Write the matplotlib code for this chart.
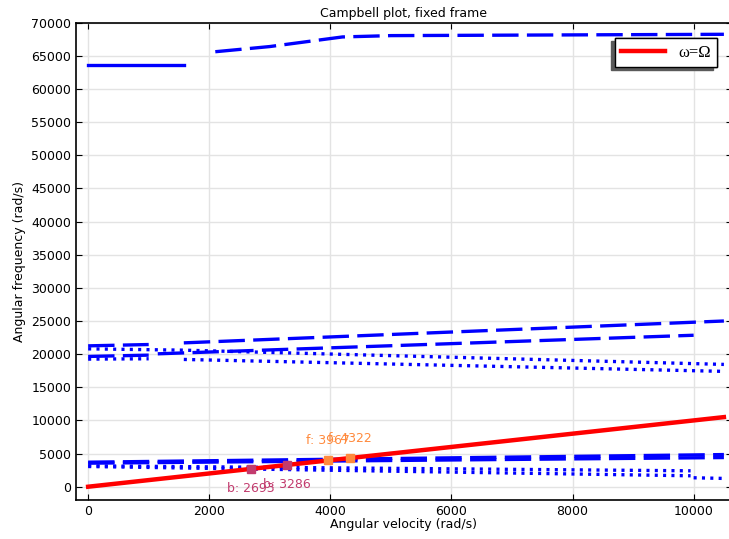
import matplotlib
matplotlib.use("Agg")
import matplotlib.pyplot as plt
from matplotlib.patches import Rectangle

plt.rcParams['lines.scale_dashes'] = False
plt.rcParams['font.family'] = ['DejaVu Sans']

# rotor speed (rad/s) and eigenfrequency (rad/s) for each branch segment
top_solid_w = [0, 1580]
top_solid_f = [63600, 63600]
top_dash_w = [2100, 3000, 4200, 5000, 10500]
top_dash_f = [65620, 66400, 67850, 68050, 68250]

mid_fw1_w = [0, 1000]
mid_fw1_f = [21250, 21450]
mid_fw2_w = [1580, 10500]
mid_fw2_f = [21700, 25000]
mid_fw3_w = [0, 1000]
mid_fw3_f = [19650, 19850]
mid_fw4_w = [1150, 10000]
mid_fw4_f = [20050, 22850]
mid_bw1_w = [0, 1580, 10500]
mid_bw1_f = [20800, 20600, 18450]
mid_bw2_w = [0, 1000]
mid_bw2_f = [19250, 19300]
mid_bw3_w = [1580, 10500]
mid_bw3_f = [19200, 17400]

low_fw1_w = [0, 10500]
low_fw1_f = [3700, 4850]
low_fw2_w = [0, 10500]
low_fw2_f = [3550, 4400]
low_bw1_w = [0, 9950]
low_bw1_f = [3150, 2400]
low_bw2_w = [0, 9950]
low_bw2_f = [3050, 1650]
low_bw3_w = [10000, 10500]
low_bw3_f = [1350, 1250]

sync_w = [0, 10500]

crit_b = [2693, 3286]
crit_f = [3967, 4322]

solid = '-'
dashed = (0, (19, 6))
dotted = (0, (2.2, 3.8))

curves = [
    (top_solid_w, top_solid_f, solid),
    (top_dash_w, top_dash_f, dashed),
    (mid_fw1_w, mid_fw1_f, dashed),
    (mid_fw2_w, mid_fw2_f, dashed),
    (mid_fw3_w, mid_fw3_f, dashed),
    (mid_fw4_w, mid_fw4_f, dashed),
    (mid_bw1_w, mid_bw1_f, dotted),
    (mid_bw2_w, mid_bw2_f, dotted),
    (mid_bw3_w, mid_bw3_f, dotted),
    (low_fw1_w, low_fw1_f, dashed),
    (low_fw2_w, low_fw2_f, dashed),
    (low_bw1_w, low_bw1_f, dotted),
    (low_bw2_w, low_bw2_f, dotted),
    (low_bw3_w, low_bw3_f, dotted),
]

fig = plt.figure(figsize=(7.29, 5.39), dpi=100)
ax = fig.add_axes([0.1043, 0.0724, 0.8995, 0.8855])

for w, f, ls in curves:
    ax.plot(w, f, color='blue', lw=2.4, linestyle=ls)

ax.plot(sync_w, sync_w, color='red', lw=3.2, label='ω=Ω', zorder=4)

b_col = '#c23b6e'
f_col = '#ff8a3d'
ax.plot(crit_b, crit_b, 's', color=b_col, ms=6, zorder=5)
ax.plot(crit_f, crit_f, 's', color=f_col, ms=6, zorder=5)
for v in crit_b:
    ax.annotate(f'b: {v}', (v, v), xytext=(0, -14), textcoords='offset points',
                ha='center', va='center', color=b_col, fontsize=9)
for v in crit_f:
    ax.annotate(f'f: {v}', (v, v), xytext=(0, 14), textcoords='offset points',
                ha='center', va='center', color=f_col, fontsize=9)

ax.set_xlim(-200, 10630)
ax.set_ylim(-2000, 70000)
ax.set_xticks(range(0, 10001, 2000))
ax.set_yticks(range(0, 70001, 5000))
ax.grid(True, color='#e3e3e3', lw=1)
ax.set_axisbelow(True)
ax.tick_params(direction='in', top=True, right=True, length=4.5, labelsize=9)
for s in ax.spines.values():
    s.set_linewidth(1.2)

ax.set_title('Campbell plot, fixed frame', fontsize=9, pad=4)
ax.set_xlabel('Angular velocity (rad/s)', fontsize=9, labelpad=0)
ax.set_ylabel('Angular frequency (rad/s)', fontsize=9, labelpad=4)

leg = ax.legend(loc='upper right', bbox_to_anchor=(0.978, 0.968), borderaxespad=0,
                fancybox=False, framealpha=1, edgecolor='black',
                prop={'family': 'Liberation Serif', 'size': 12}, handlelength=2.6)
leg.get_frame().set_linewidth(1)

# offset shadow behind the legend box
fig.canvas.draw()
bb = leg.get_frame().get_window_extent().transformed(fig.transFigure.inverted())
shadow = Rectangle((bb.x0 - 4 / 729, bb.y0 - 3 / 539), bb.width, bb.height,
                   transform=fig.transFigure, color='#5a5a5a', zorder=9)
fig.add_artist(shadow)
leg.set_zorder(10)
fig.add_artist(leg)

fig.savefig('out.png', dpi=100)
